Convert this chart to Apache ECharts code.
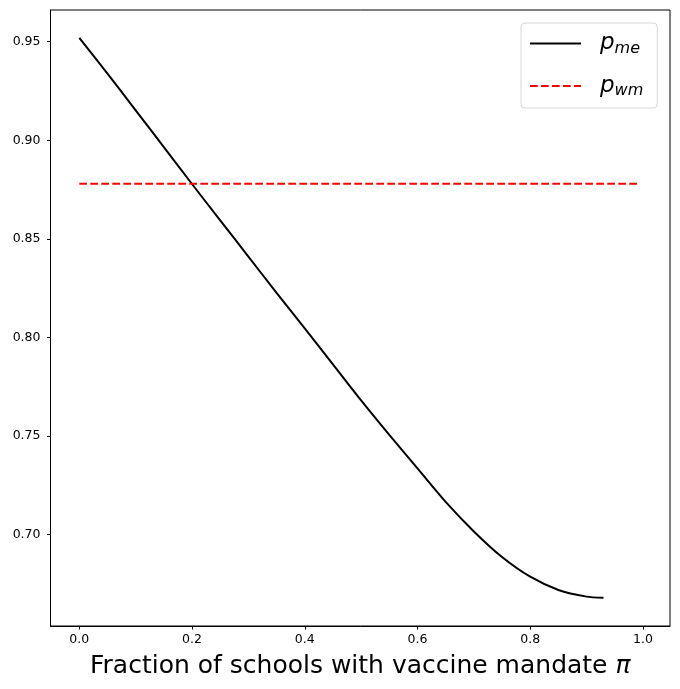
<!DOCTYPE html>
<html>
<head>
<meta charset="utf-8">
<script src="https://cdn.jsdelivr.net/npm/echarts@6/dist/echarts.min.js"></script>
<style>
html,body{margin:0;padding:0;background:#fff;}
#chart{width:680px;height:689px;}
</style>
</head>
<body>
<div id="chart"></div>
<script>
// Data
var piValues = [0, 0.05, 0.10, 0.15, 0.20, 0.25, 0.30, 0.35, 0.40, 0.45, 0.50, 0.55, 0.60, 0.65, 0.70, 0.75, 0.80, 0.85, 0.90, 0.93];
var pMe = [0.952, 0.9338, 0.9152, 0.8965, 0.8778, 0.8593, 0.8410, 0.8225, 0.8045, 0.7863, 0.7680, 0.7505, 0.7335, 0.7165, 0.7015, 0.6885, 0.6785, 0.6718, 0.6684, 0.6678];
var pWmX = [0, 0.99];
var pWmValue = 0.8779;
var xTicks = [0, 0.2, 0.4, 0.6, 0.8, 1.0];
var yTicks = [0.70, 0.75, 0.80, 0.85, 0.90, 0.95];
var xLabelText = 'Fraction of schools with vaccine mandate ';
var xLabelSymbol = 'π';

var chart = echarts.init(document.getElementById('chart'), null, {renderer: 'canvas'});
var font = 'DejaVu Sans';

var option = {
  animation: false,
  backgroundColor: '#fff',
  grid: {
    left: 50.5, top: 10, right: 10, bottom: 63,
    show: true, borderColor: '#000', borderWidth: 1, containLabel: false
  },
  legend: {
    left: 521, top: 23,
    orient: 'vertical',
    itemWidth: 51, itemHeight: 20, itemGap: 18,
    padding: [9, 14, 9, 8],
    backgroundColor: '#fff',
    borderColor: '#d6d6d6', borderWidth: 1, borderRadius: 4,
    data: ['me', 'wm'],
    itemStyle: {opacity: 0},
    formatter: function (name) { return '{p|p}{s|' + name + '}'; },
    textStyle: {
      fontFamily: font,
      rich: {
        p: {fontFamily: font, fontStyle: 'italic', fontSize: 23, color: '#000', padding: [0, 0, 0, 14]},
        s: {fontFamily: font, fontStyle: 'italic', fontSize: 16, color: '#000', padding: [10, 0, 0, 0]}
      }
    }
  },
  xAxis: {
    type: 'value',
    min: -0.0511, max: 1.048,
    name: xLabelText + '{i|' + xLabelSymbol + '}',
    nameLocation: 'middle',
    nameGap: 28,
    nameTextStyle: {
      fontFamily: font, fontSize: 25, color: '#000',
      rich: {i: {fontFamily: font, fontStyle: 'italic', fontSize: 25, color: '#000'}}
    },
    axisLine: {show: true, onZero: false, lineStyle: {color: '#000', width: 1}},
    axisTick: {show: true, inside: false, length: 3.5, customValues: xTicks, lineStyle: {color: '#000'}},
    axisLabel: {
      customValues: xTicks, margin: 7,
      fontFamily: font, fontSize: 12.5, color: '#000',
      formatter: function (v) { return v.toFixed(1); }
    },
    splitLine: {show: false}
  },
  yAxis: {
    type: 'value',
    min: 0.6535, max: 0.9661,
    axisLine: {show: true, onZero: false, lineStyle: {color: '#000', width: 1}},
    axisTick: {show: true, inside: false, length: 3.5, customValues: yTicks, lineStyle: {color: '#000'}},
    axisLabel: {
      customValues: yTicks, margin: 10,
      fontFamily: font, fontSize: 12.5, color: '#000',
      formatter: function (v) { return v.toFixed(2); }
    },
    splitLine: {show: false}
  },
  series: [
    {
      name: 'me',
      type: 'line',
      data: piValues.map(function (x, i) { return [x, pMe[i]]; }),
      smooth: 0.25,
      symbol: 'none',
      lineStyle: {color: '#000', width: 2},
      itemStyle: {color: '#000'}
    },
    {
      name: 'wm',
      type: 'line',
      data: pWmX.map(function (x) { return [x, pWmValue]; }),
      symbol: 'none',
      lineStyle: {color: '#ff0000', width: 2, type: [7.7, 3.3]},
      itemStyle: {color: '#ff0000'}
    }
  ]
};
chart.setOption(option);
</script>
</body>
</html>
